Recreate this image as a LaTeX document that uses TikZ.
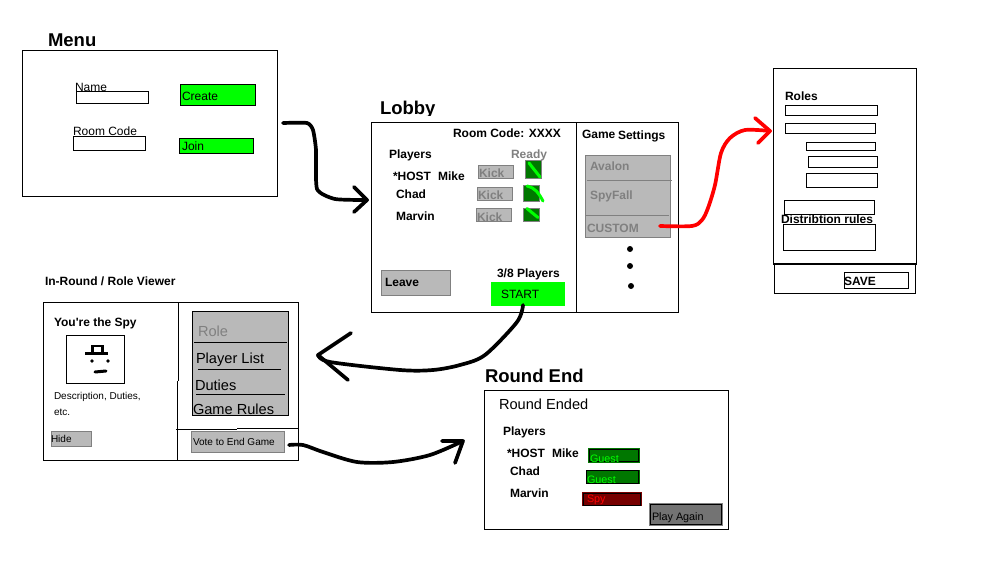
\documentclass[tikz,border=0pt]{standalone}
\usepackage{fontspec}
\setmainfont{Liberation Sans}[Ligatures=TeXOff]
\definecolor{panelgray}{HTML}{B9B9B9}
\definecolor{edgegray}{HTML}{808080}
\definecolor{textgray}{HTML}{808080}
\definecolor{brightgreen}{HTML}{00FF00}
\definecolor{darkgreen}{HTML}{007700}
\definecolor{darkred}{HTML}{770000}
\definecolor{againgray}{HTML}{737373}
\newcommand{\mybox}[6]{\node[#6,minimum width={(#4-#2-0.5)*1pt},minimum height={(#5-#3)*1pt}] (#1) at ({(#2+#4)/2-0.25},{(#3+#5)/2}) {};}
\newcommand{\mytext}[5]{\node[lbl,#4] (#1) at (#2,#3) {#5};}
\tikzset{
  x=1pt,y=-1pt,
  frame/.style={draw=black,line width=1pt,fill=white,inner sep=0pt,outer sep=0pt},
  plainbox/.style={draw=none,inner sep=0pt,outer sep=0pt},
  greenbtn/.style={frame,fill=brightgreen},
  graybtn/.style={draw=edgegray,line width=1pt,fill=panelgray,inner sep=0pt,outer sep=0pt},
  readybox/.style={draw=edgegray,line width=1pt,fill=darkgreen,inner sep=0pt,outer sep=0pt},
  lbl/.style={anchor=base west,inner sep=0pt,outer sep=0pt,text=black},
  head/.style={font=\fontsize{18.5}{18.5}\selectfont\bfseries},
  bd/.style={font=\fontsize{12}{12}\selectfont\bfseries},
  rg/.style={font=\fontsize{12}{12}\selectfont},
  sm/.style={font=\fontsize{10}{10}\selectfont},
  md/.style={font=\fontsize{14.6}{14.6}\selectfont},
  res/.style={font=\fontsize{10.8}{10.8}\selectfont},
  inkline/.style={draw=black,line width=3.7pt,line cap=round,line join=round},
  redink/.style={draw=red,line width=3.7pt,line cap=round,line join=round},
  tick/.style={draw=brightgreen,line width=3pt,line cap=round},
  hair/.style={draw=black,line width=1pt},
  grayhair/.style={draw=edgegray,line width=1pt},
}
\begin{document}
\begin{tikzpicture}
\fill[white] (0,0) rectangle (996,575);
\useasboundingbox (0,0) rectangle (996,575);

% ---------- Menu
\mytext{tMenu}{48}{47}{head}{Menu}
\mybox{menu}{22}{51}{277.5}{196}{frame}
\mybox{nameF}{76}{92}{148.5}{104}{frame}
\mytext{tName}{75}{91.5}{rg}{Name}
\mybox{create}{180}{84.5}{256}{106}{greenbtn}
\mytext{tCreate}{182}{101}{rg}{Create}
\mybox{codeF}{73}{137}{146}{151}{frame}
\mytext{tCode}{73}{136}{rg}{Room Code}
\mybox{join}{179}{139}{254}{154}{greenbtn}
\mytext{tJoin}{182}{150}{rg}{Join}

% ---------- Lobby
\begin{scope}
\clip (370,90) rectangle (450,115.5);
\mytext{tLobby}{380}{114.5}{head}{Lobby}
\end{scope}
\mybox{lobby}{371}{123}{679}{312}{frame}
\coordinate (lobbyDivA) at (576,123);
\coordinate (lobbyDivB) at (576,312);
\draw[hair] (lobbyDivA) -- (lobbyDivB);
\mytext{tRoomCode}{453}{138}{bd}{Room Code: XXXX}
\mytext{tGame}{582}{139}{bd}{Game}
\mytext{tSettings}{618}{140}{bd}{Settings}
\mytext{tPlayers}{389}{158}{bd}{Players}
\mytext{tReady}{511}{158}{bd,text=textgray}{Ready}
\mytext{tHost}{393}{180}{bd}{*HOST}
\mytext{tMike}{438}{180}{bd}{Mike}
\mytext{tChad}{396}{198}{bd}{Chad}
\mytext{tMarvin}{396}{220}{bd}{Marvin}

\mybox{kickA}{478}{166}{514}{178}{graybtn}
\mytext{tKickA}{479}{177.5}{bd,text=textgray}{Kick}
\mybox{kickB}{477}{187}{513}{200}{graybtn}
\mytext{tKickB}{478}{199}{bd,text=textgray}{Kick}
\mybox{kickC}{476}{208}{512}{221}{graybtn}
\begin{scope}
\clip (470,208) rectangle (516,221);
\mytext{tKickC}{477}{221.5}{bd,text=textgray}{Kick}
\end{scope}
\draw[edgegray,line width=1pt] (kickC.south west) -- (kickC.south east);

\mybox{readyA}{525}{161}{542}{178}{readybox}
\draw[tick] (readyA.north west)++(4,2) -- ++(11,14);
\mybox{readyB}{523}{185}{540}{201}{readybox}
\draw[tick] (readyB.north west)++(4,1) .. controls (535,188) and (538,192) .. (543,201);
\mybox{readyC}{523}{208}{540}{221}{readybox}
\draw[tick] (readyC.north west)++(4,0.5) -- ++(11,9);

\mybox{games}{585}{156}{671}{237}{graybtn}
\coordinate (gLineA) at (587,180);
\coordinate (gLineB) at (672,180);
\coordinate (gLineC) at (586,215);
\coordinate (gLineD) at (669,215);
\draw[grayhair] (gLineA) -- (gLineB);
\draw[grayhair] (gLineC) -- (gLineD);
\mytext{tAvalon}{590}{171}{bd,text=textgray}{Avalon}
\mytext{tSpyFall}{590}{199}{bd,text=textgray}{SpyFall}
\mytext{tCustom}{587}{232}{bd,text=textgray}{CUSTOM}
\fill[black] (630,249) circle (3);
\fill[black] (630,266) circle (3);
\fill[black] (631,286) circle (3);

\mybox{leave}{381}{270}{451}{295}{graybtn}
\mytext{tLeave}{385}{286}{bd}{Leave}
\mytext{tCount}{497}{277}{bd}{3/8 Players}
\mybox{start}{491}{282}{565}{306}{plainbox,fill=brightgreen}
\mytext{tStart}{501}{298}{rg}{START}

% ---------- Roles
\mybox{roles}{773}{68.5}{917}{264}{frame}
\mybox{saveBar}{774}{264}{916}{293}{frame}
\coordinate (rolesSplitA) at (773,264);
\coordinate (rolesSplitB) at (916.5,264);
\draw[black,line width=1.6pt] (rolesSplitA) -- (rolesSplitB);
\mytext{tRoles}{785}{100.5}{bd}{Roles}
\mybox{rA}{785}{105.5}{878}{115.5}{frame}
\mybox{rB}{785}{124}{876}{134}{frame}
\mybox{rC}{806}{143}{876}{151}{frame}
\mybox{rD}{808}{157}{878}{168}{frame}
\mybox{rE}{806}{173}{878}{187}{frame}
\mybox{rF}{784}{200}{875}{214}{frame}
\mybox{rG}{783}{224}{876}{250}{frame}
\mytext{tDist}{781}{223}{bd}{Distribtion rules}
\mybox{save}{844}{272}{909}{288}{frame}
\mytext{tSave}{844}{285}{bd}{SAVE}

% ---------- In-round
\mytext{tRound}{45}{285}{bd}{In-Round / Role Viewer}
\mybox{round}{43}{302}{298.5}{460}{frame}
\coordinate (rdA) at (178,302);
\coordinate (rdB) at (178,381);
\coordinate (rdC) at (177,381);
\coordinate (rdD) at (177,460);
\coordinate (rdE) at (176,429);
\coordinate (rdF) at (237,429);
\coordinate (rdG) at (237,428);
\coordinate (rdH) at (298,428);
\draw[hair] (rdA) -- (rdB);
\draw[hair] (rdC) -- (rdD);
\draw[hair] (rdE) -- (rdF);
\draw[hair] (rdG) -- (rdH);
\mytext{tSpy}{54}{326}{bd}{You're the Spy}
\mybox{portrait}{66}{335}{125}{383}{frame}
\fill[black] (85,351.5) rectangle (108,354.5);
\draw[black,line width=2.5pt] (92.5,354) -- (92.5,346) -- (102.5,346) -- (102.5,354);
\fill[black] (92,361) circle (1.8);
\fill[black] (108,361) circle (1.8);
\draw[black,line width=3pt,line cap=round] (95,372) -- (106,371);
\mytext{tDesc}{54}{399}{sm}{Description, Duties,}
\mytext{tEtc}{54}{415}{sm}{etc.}
\mybox{hide}{51}{431}{92}{446}{graybtn}
\mytext{tHide}{51}{442}{sm}{Hide}
\mybox{side}{192}{311}{289}{415}{frame,fill=panelgray}
\mytext{tRole}{198}{336}{md,text=textgray}{Role}
\coordinate (sA) at (194,342);
\coordinate (sB) at (287,342);
\draw[hair] (sA) -- (sB);
\mytext{tList}{196}{363}{md}{Player List}
\coordinate (sC) at (198,369);
\coordinate (sD) at (281,369);
\draw[hair] (sC) -- (sD);
\mytext{tDuties}{195}{390}{md}{Duties}
\coordinate (sE) at (196,394);
\coordinate (sF) at (285,394);
\draw[hair] (sE) -- (sF);
\mytext{tRules}{193}{414}{md}{Game Rules}
\mybox{vote}{191}{431}{285}{452}{graybtn}
\mytext{tVote}{193}{445}{sm}{Vote to End Game}

% ---------- Round End
\mytext{tEnd}{485}{382}{head}{Round End}
\mybox{roundEnd}{484}{390}{729}{529}{frame}
\mytext{tEnded}{499}{409}{md}{Round Ended}
\mytext{tEPlayers}{503}{435}{bd}{Players}
\mytext{tEHost}{507}{457}{bd}{*HOST}
\mytext{tEMike}{552}{457}{bd}{Mike}
\mytext{tEChad}{510}{475}{bd}{Chad}
\mytext{tEMarvin}{510}{497}{bd}{Marvin}

\mybox{guestAo}{588}{448}{640}{462.5}{plainbox,fill=darkgreen}
\mybox{guestA}{589}{449}{639}{461.5}{frame,fill=darkgreen}
\begin{scope}
\clip (588,448) rectangle (640,461.5);
\mytext{tGuestA}{590}{462}{res,text=brightgreen}{Guest}
\end{scope}
\mybox{guestBo}{585.5}{469.5}{640}{484}{plainbox,fill=darkgreen}
\mybox{guestB}{586.5}{470.5}{639}{483}{frame,fill=darkgreen}
\begin{scope}
\clip (585,469) rectangle (640,483);
\mytext{tGuestB}{587}{483}{res,text=brightgreen}{Guest}
\end{scope}
\mybox{spyo}{582}{492}{642}{506}{plainbox,fill=darkred}
\mybox{spy}{583}{493}{641}{505}{frame,fill=darkred}
\mytext{tSpyR}{587}{502}{res,text=red}{Spy}
\mybox{againO}{649}{503}{723}{525.5}{plainbox,fill=edgegray}
\mybox{again}{650}{504}{722}{524.5}{frame,fill=againgray}
\mytext{tAgain}{652}{520}{res}{Play Again}

% ---------- Connectors
\coordinate (a1s) at (283,123);
\coordinate (a1t) at (367,200);
\coordinate (a1u) at (354,187);
\coordinate (a1d) at (354,212);
\draw[inkline] plot[smooth,tension=0.35] coordinates {(a1s) (307,123) (313,130) (316,150) (317,189) (335,199) (a1t)};
\draw[inkline] (a1u) -- (a1t) -- (a1d);

\coordinate (a2s) at (660,226);
\coordinate (a2t) at (770,131);
\coordinate (a2u) at (755,118);
\coordinate (a2d) at (758,143);
\draw[redink] plot[smooth,tension=0.5] coordinates {(a2s) (692,226) (702,220) (708,208) (715,185) (721,153) (730,138) (745,130) (a2t)};
\draw[redink] (a2u) -- (a2t) -- (a2d);

\coordinate (a3s) at (523,305);
\coordinate (a3t) at (318,355);
\coordinate (a3u) at (351,333);
\coordinate (a3d) at (348,380);
\draw[inkline] plot[smooth,tension=0.5] coordinates {(a3s) (517,322) (485,355) (460,365) (433,370) (400,370) (330,362) (a3t)};
\draw[inkline] (a3u) -- (a3t) -- (a3d);

\coordinate (a4s) at (289,445);
\coordinate (a4t) at (463,441);
\coordinate (a4u) at (442,441);
\coordinate (a4d) at (455,463);
\draw[inkline] plot[smooth,tension=0.5] coordinates {(a4s) (303,445) (323,452) (357,462) (393,462) (430,455) (a4t)};
\draw[inkline] (a4u) -- (a4t) -- (a4d);
\end{tikzpicture}
\end{document}
